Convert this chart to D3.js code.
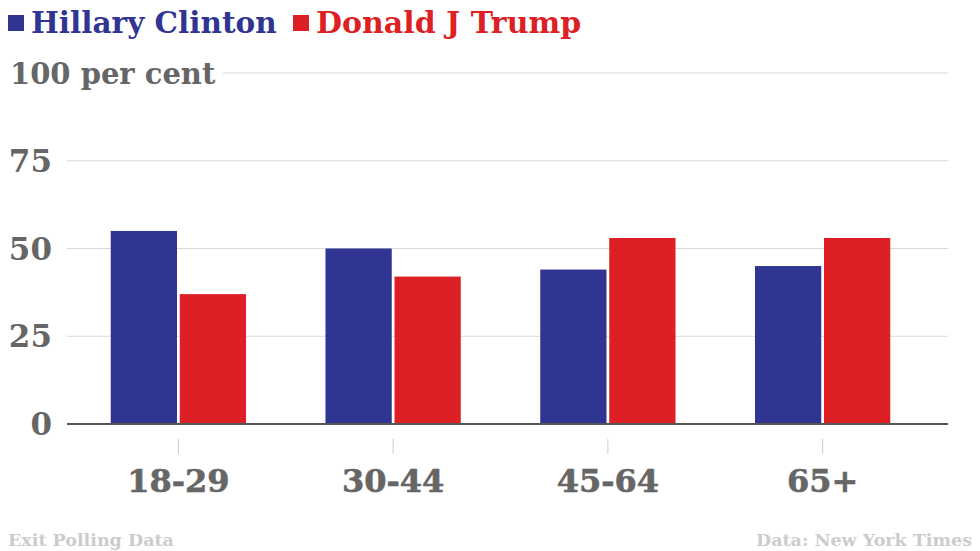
<!DOCTYPE html>
<meta charset="utf-8">
<script src="https://d3js.org/d3.v7.min.js"></script>
<head>
	<title>Exit polling by age</title>
	<style>
		body { margin: 0; background: #fff; }
		text { font-family: "DejaVu Serif", serif; font-weight: bold; }
	</style>
</head>
<body>
	<div id="chart"></div>
	<script>
		// data
		var ageGroups = ["18-29", "30-44", "45-64", "65+"];
		var seriesNames = ["Hillary Clinton", "Donald J Trump"];
		var clinton = [55, 50, 44, 45];
		var trump = [37, 42, 53, 53];
		var yTicks = [0, 25, 50, 75, 100];

		var colors = ["#303592", "#dd1f26"];

		var width = 980, height = 551;

		var svg = d3.select("#chart")
			.append("svg")
			.attr("width", width)
			.attr("height", height);

		var y = d3.scaleLinear().domain([0, 100]).range([424, 73]);

		var x0 = d3.scaleBand()
			.domain(ageGroups)
			.range([71, 930])
			.paddingInner(0.37)
			.paddingOuter(0.185);

		var x1 = d3.scaleBand()
			.domain(seriesNames)
			.range([0, x0.bandwidth()])
			.paddingInner(0.04);

		// gridlines
		svg.append("g")
			.selectAll("line")
			.data(yTicks.filter(d => d > 0))
			.enter()
			.append("line")
			.attr("x1", d => d === 100 ? 223 : 67)
			.attr("x2", 948)
			.attr("y1", d => y(d))
			.attr("y2", d => y(d))
			.style("stroke", "#d9d9d9")
			.style("stroke-width", 1.2);

		// y labels
		svg.append("g")
			.selectAll("text")
			.data(yTicks)
			.enter()
			.append("text")
			.attr("x", d => d === 100 ? 10 : 52)
			.attr("y", d => y(d) + 11)
			.attr("text-anchor", d => d === 100 ? "start" : "end")
			.style("font-size", d => d === 100 ? "29px" : "31px")
			.style("fill", "#666")
			.text(d => d === 100 ? "100 per cent" : d);

		// bars
		var rows = ageGroups.map((g, i) => ({group: g, values: [clinton[i], trump[i]]}));

		svg.append("g")
			.selectAll("g")
			.data(rows)
			.enter()
			.append("g")
			.attr("transform", d => "translate(" + x0(d.group) + ",0)")
			.selectAll("rect")
			.data(d => d.values.map((v, j) => ({name: seriesNames[j], value: v, idx: j})))
			.enter()
			.append("rect")
			.attr("x", d => x1(d.name))
			.attr("width", x1.bandwidth())
			.attr("y", d => y(d.value))
			.attr("height", d => y(0) - y(d.value))
			.style("fill", d => colors[d.idx]);

		// baseline
		svg.append("line")
			.attr("x1", 67).attr("x2", 948)
			.attr("y1", y(0)).attr("y2", y(0))
			.style("stroke", "#555")
			.style("stroke-width", 2);

		// x ticks + labels
		var xg = svg.append("g")
			.selectAll("g")
			.data(ageGroups)
			.enter()
			.append("g")
			.attr("transform", d => "translate(" + (x0(d) + x0.bandwidth() / 2) + ",0)");

		xg.append("line")
			.attr("y1", 439).attr("y2", 454)
			.style("stroke", "#ccc")
			.style("stroke-width", 1);

		xg.append("text")
			.attr("y", 492)
			.attr("text-anchor", "middle")
			.style("font-size", "32px")
			.style("fill", "#666")
			.style("stroke", "#666")
			.style("stroke-width", 0.6)
			.text(d => d);

		// legend
		var legendX = [8, 293];
		var leg = svg.append("g")
			.selectAll("g")
			.data(seriesNames)
			.enter()
			.append("g")
			.attr("transform", (d, i) => "translate(" + legendX[i] + ",0)");

		leg.append("rect")
			.attr("y", 15).attr("width", 16).attr("height", 16)
			.style("fill", (d, i) => colors[i]);

		leg.append("text")
			.attr("x", 23)
			.attr("y", 33)
			.style("font-size", (d, i) => i === 0 ? "29.5px" : "30px")
			.style("fill", (d, i) => colors[i])
			.text(d => d);

		// footer
		svg.append("text")
			.attr("x", 8).attr("y", 546)
			.style("font-size", "17.5px")
			.style("fill", "#ccc")
			.text("Exit Polling Data");

		svg.append("text")
			.attr("x", 972).attr("y", 546)
			.attr("text-anchor", "end")
			.style("font-size", "17.5px")
			.style("fill", "#ccc")
			.text("Data: New York Times");
	</script>
</body>
</html>
